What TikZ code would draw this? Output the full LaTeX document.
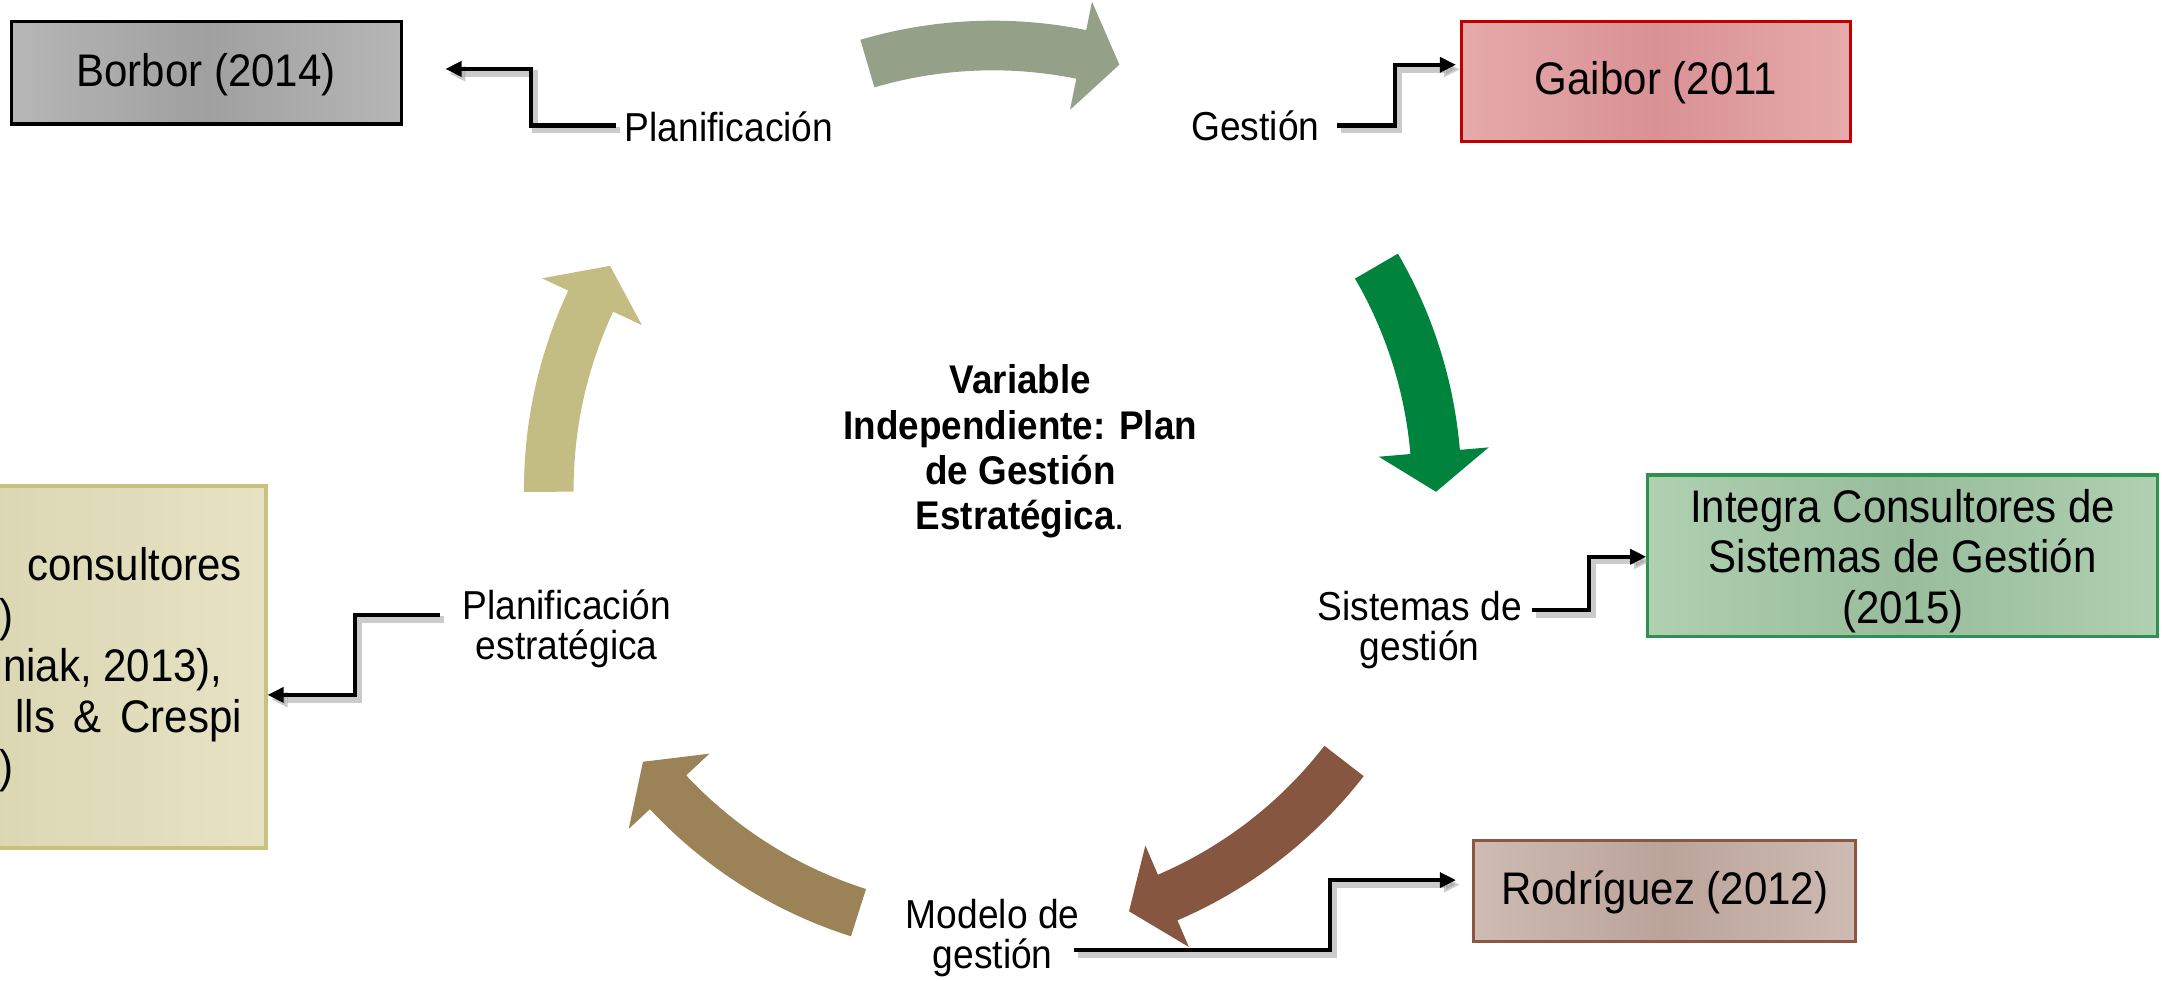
\documentclass[tikz,border=0pt]{standalone}
\usepackage{fontspec}
\setmainfont{Liberation Sans}[FakeStretch=0.92]
\usetikzlibrary{arrows.meta,calc}
\definecolor{arTop}{HTML}{94A088}
\definecolor{arGreen}{HTML}{00843D}
\definecolor{arBrown}{HTML}{875641}
\definecolor{arOlive}{HTML}{9C8357}
\definecolor{arKhaki}{HTML}{C3BD83}
\definecolor{grayE}{HTML}{B6B6B6}
\definecolor{grayC}{HTML}{A0A0A0}
\definecolor{redE}{HTML}{E5AAAA}
\definecolor{redC}{HTML}{D99194}
\definecolor{redB}{HTML}{C00000}
\definecolor{grnE}{HTML}{AFD0B1}
\definecolor{grnC}{HTML}{98BC9C}
\definecolor{grnB}{HTML}{2F9150}
\definecolor{brnE}{HTML}{CEBBB3}
\definecolor{brnC}{HTML}{BBA39A}
\definecolor{brnB}{HTML}{8B5742}
\definecolor{khE}{HTML}{E6E2C4}
\definecolor{khC}{HTML}{DCD7B3}
\definecolor{khB}{HTML}{C9C27F}
\tikzset{
  boxnode/.style={draw, line width=0.9pt, align=center, inner sep=0pt},
  boxtext/.style={align=center, inner sep=0pt, font=\fontsize{13}{14.4}\selectfont},
  lbl/.style={align=center, inner sep=0pt, font=\fontsize{11.5}{11.4}\selectfont},
  conn/.style={line width=1.2pt, black, -{Triangle[length=4.6pt,width=4.2pt]}},
  connshadow/.style={line width=1.8pt, black!45, opacity=0.45,
    -{Triangle[length=4.6pt,width=4.2pt]},
    transform canvas={shift={(1.1pt,-1.3pt)}}},
  ktext/.style={inner sep=0pt, font=\fontsize{13}{14.4}\selectfont}
}
\newcommand\myconn[1]{\draw[connshadow] #1; \draw[conn] #1;}
\newcommand\cycarrow[4]{%
  \fill[#1] ($(C)+(#2:340)$) arc[start angle=#2, end angle=#3, radius=340]
    -- ($(C)+(#3:361)$) -- ($(C)+(#4:321.5)$) -- ($(C)+(#3:281)$)
    -- ($(C)+(#3:304)$) arc[start angle=#3, end angle=#2, radius=304] -- cycle;}
\begin{document}
\begin{tikzpicture}[x=0.013788cm, y=-0.013788cm]
\useasboundingbox (0,0) rectangle (1568,711);
\clip (0,0) rectangle (1568,711);
\coordinate (C) at (720,355);

% cycle arrows
\cycarrow{arTop}{-106.4}{-78.5}{-73.4}
\cycarrow{arGreen}{-30.2}{-4.85}{0.3}
\cycarrow{arBrown}{37.7}{66.8}{72.1}
\cycarrow{arOlive}{107.6}{137}{142.1}
\cycarrow{arKhaki}{-180.3}{-154.9}{-149.7}

% boxes
\node[boxnode, minimum width=111pt, minimum height=29.2pt,
  left color=grayE, right color=grayE, middle color=grayC] (borbor) at (149.5,52.75) {};
\node[boxtext] (borborT) at (149.5,54) {Borbor (2014)};
\node[boxnode, draw=redB, minimum width=110.6pt, minimum height=34.2pt,
  left color=redE, right color=redE, middle color=redC] (gaibor) at (1201,59.25) {};
\node[boxtext] (gaiborT) at (1201,60) {Gaibor (2011};
\node[boxnode, draw=grnB, minimum width=145.2pt, minimum height=46pt,
  left color=grnE, right color=grnE, middle color=grnC] (integra) at (1380,403.15) {};
\node[boxtext, font=\fontsize{13}{14.5}\selectfont] (integraT) at (1380,407)
  {Integra Consultores de\\Sistemas de Gestión\\(2015)};
\node[boxnode, draw=brnB, minimum width=108.8pt, minimum height=28.9pt,
  left color=brnE, right color=brnE, middle color=brnC] (rodri) at (1207.35,646.15) {};
\node[boxtext] (rodriT) at (1207.35,647.5) {Rodríguez (2012)};
\node[boxnode, draw=khB, minimum width=154.2pt, minimum height=103pt,
  left color=khE, right color=khE, middle color=khC] (khaki) at (-3.5,483.75) {};

% khaki box text (visible part)
\node[ktext, anchor=base east] (k1) at (176,421) {consultores};
\node[ktext, anchor=base east] (k2) at (10,458) {)};
\node[ktext, anchor=base east] (k3) at (162,494.5) {niak, 2013),};
\node[ktext, anchor=base east] (k4) at (176,531) {lls\hspace{5.3pt}\&\hspace{5.3pt}Crespi};
\node[ktext, anchor=base east] (k5) at (10,567.5) {)};

% labels
\node[lbl] (planlbl) at (528.7,92) {Planificación};
\node[lbl] (gestlbl) at (910.5,91) {Gestión};
\node[lbl] (sislbl) at (1029.6,457) {Sistemas de\\gestión};
\node[lbl] (modlbl) at (720,680) {Modelo de\\gestión};
\node[lbl] (pelbl) at (411,456) {Planificación\\estratégica};
\node[align=center, inner sep=0pt, font=\fontsize{11.4}{12.9}\selectfont\bfseries] (center) at (740,327.5)
  {Variable\\Independiente: Plan\\de Gestión\\Estratégica{\mdseries.}};

% connector ends
\coordinate (s1) at (447,91);   \coordinate (e1) at (323,50);
\coordinate (s2) at (970,91);   \coordinate (e2) at (1056,47);
\coordinate (s3) at (1111,442.4); \coordinate (e3) at (1194,403.8);
\coordinate (s4) at (319,446);  \coordinate (e4) at (194,504);
\coordinate (s5) at (778.7,689); \coordinate (e5) at (1056,638.3);

\myconn{(s1) -- (385,91) |- (e1)}
\myconn{(s2) -- (1012,91) |- (e2)}
\myconn{(s3) -- (1152.6,442.4) |- (e3)}
\myconn{(s4) -- (257.4,446) |- (e4)}
\myconn{(s5) -- (964.4,689) |- (e5)}
\end{tikzpicture}
\end{document}
